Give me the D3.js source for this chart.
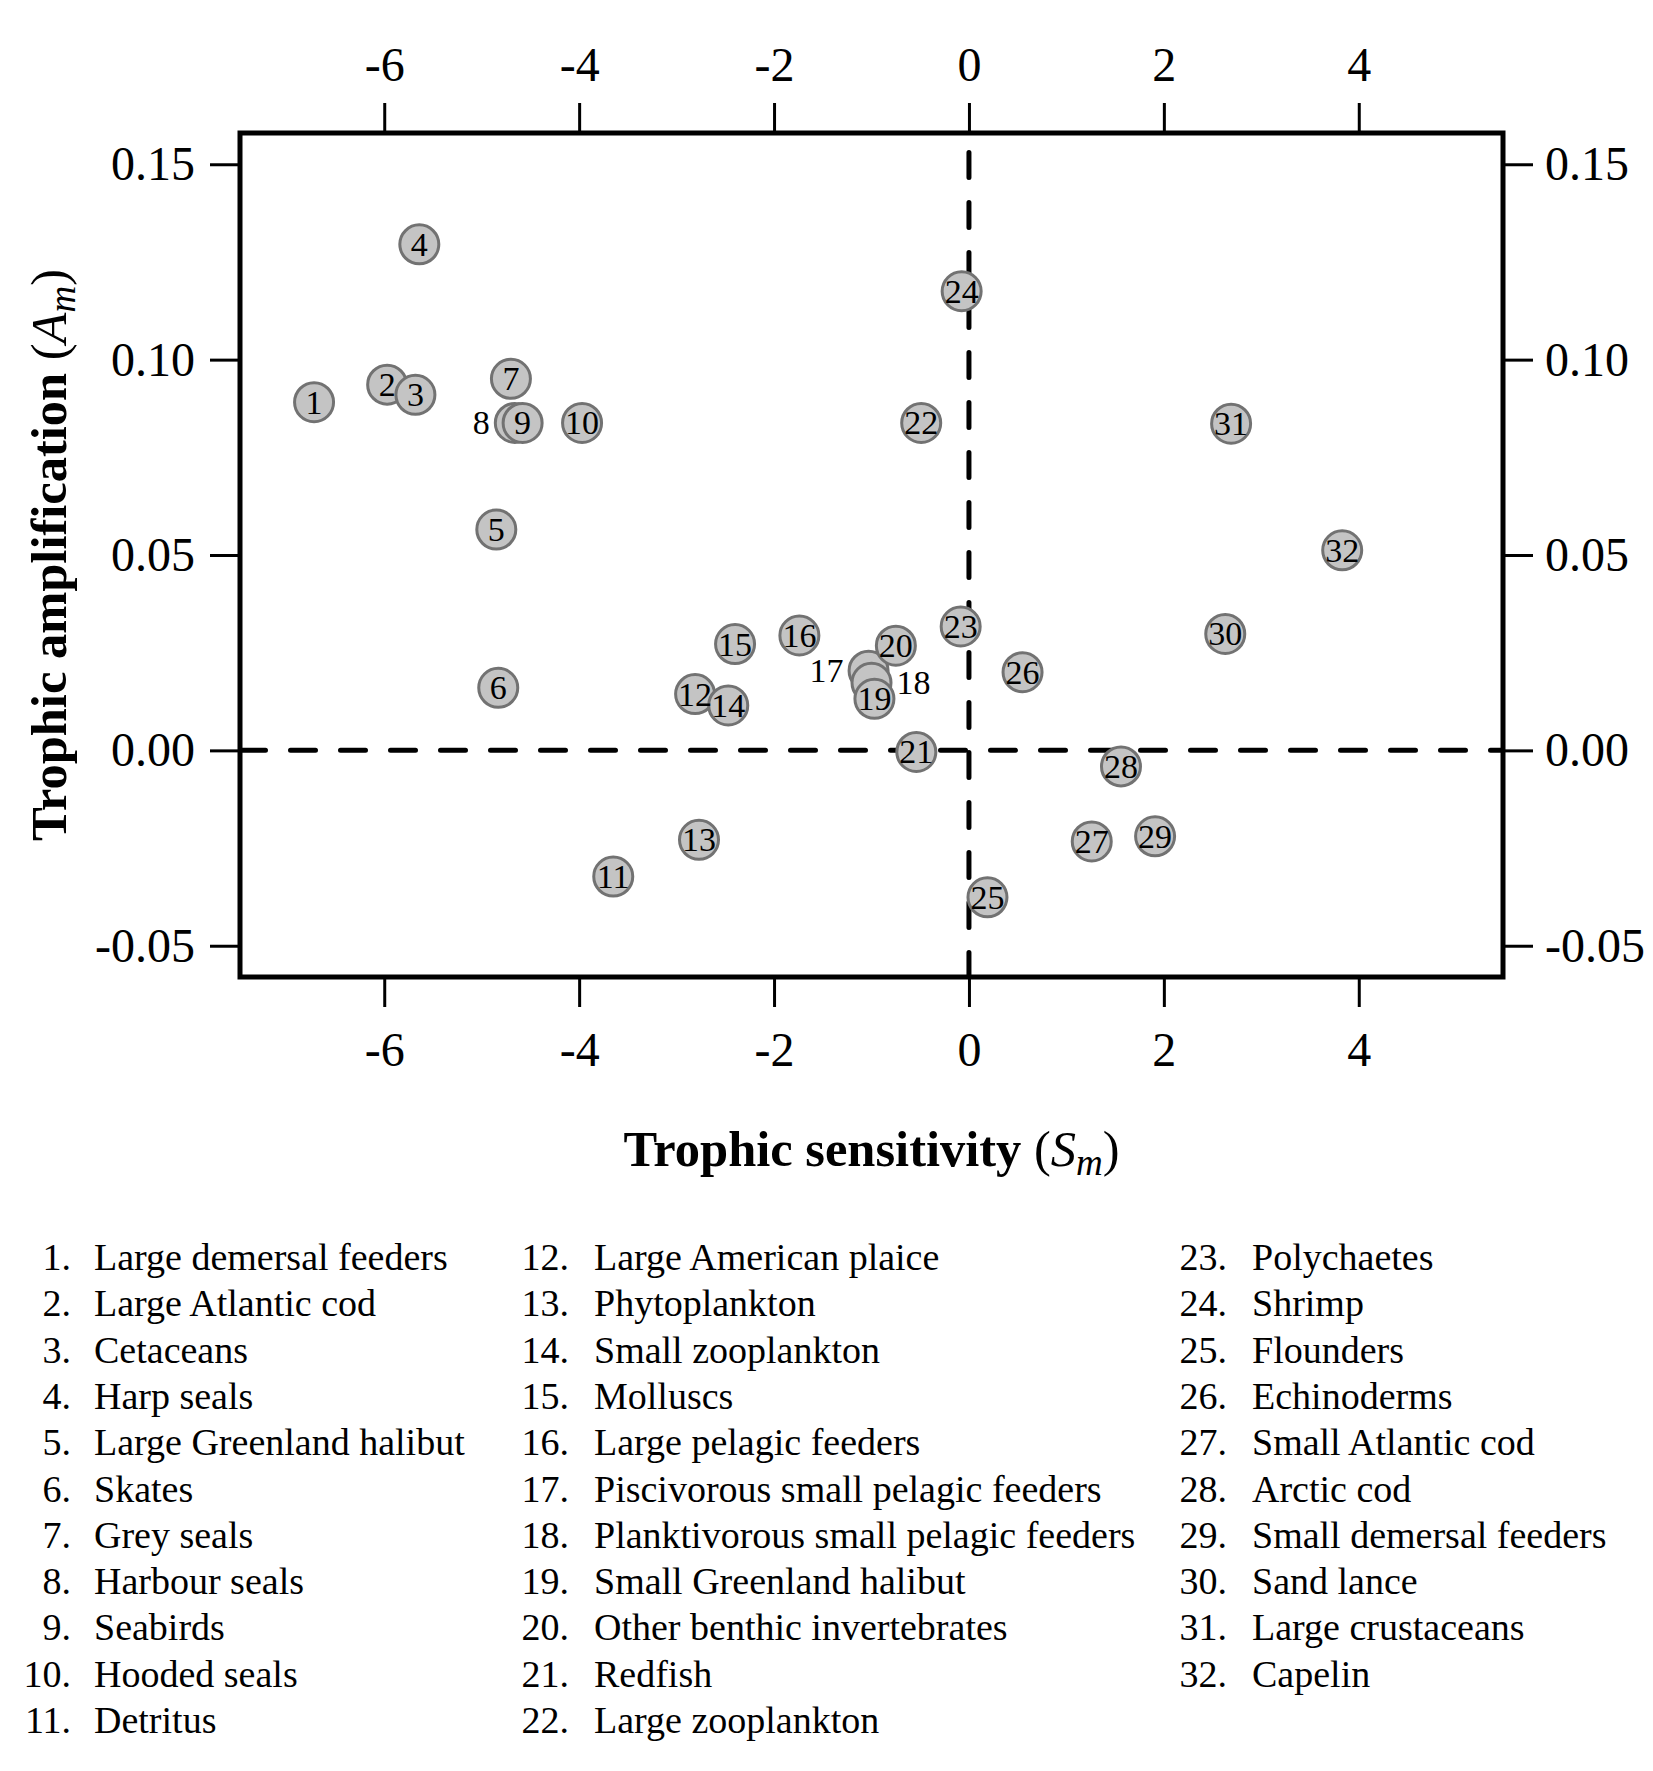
<!DOCTYPE html>
<html>
<head>
<meta charset="utf-8">
<script src="https://cdn.jsdelivr.net/npm/d3@7"></script>
<style>
  body { margin: 0; background: #fff; }
  svg text { font-family: "Liberation Serif", "Times New Roman", serif; fill: #000; }
</style>
</head>
<body>
<div id="chart"></div>
<script>
// group numbers, trophic sensitivity (x) and trophic amplification (y)
var groupIds = [1, 2, 3, 4, 5, 6, 7, 8, 9, 10, 11, 12, 13, 14, 15, 16,
                17, 18, 19, 20, 21, 22, 23, 24, 25, 26, 27, 28, 29, 30, 31, 32];
var sensitivity = [-6.72, -5.97, -5.68, -5.64, -4.85, -4.83, -4.70, -4.66, -4.58, -3.97, -3.65,
                   -2.81, -2.77, -2.47, -2.40, -1.74, -1.03, -1.00, -0.97, -0.75, -0.54, -0.49,
                   -0.085, -0.075, 0.19, 0.55, 1.26, 1.56, 1.91, 2.63, 2.69, 3.83];
var amplification = [0.0891, 0.0936, 0.0910, 0.1295, 0.0565, 0.0160, 0.0951, 0.0838, 0.0838, 0.0838, -0.0323,
                     0.0144, -0.0229, 0.0115, 0.0272, 0.0294, 0.0204, 0.0173, 0.0132, 0.0268, -0.0004, 0.0838,
                     0.0317, 0.1175, -0.0376, 0.0200, -0.0233, -0.0041, -0.0220, 0.0298, 0.0836, 0.0512];
// where the number is written: inside the circle, or beside it
var labelSide = ['in', 'in', 'in', 'in', 'in', 'in', 'in', 'left', 'in', 'in', 'in',
                 'in', 'in', 'in', 'in', 'in', 'left', 'right', 'in', 'in', 'in', 'in',
                 'in', 'in', 'in', 'in', 'in', 'in', 'in', 'in', 'in', 'in'];
var groupNames = ['Large demersal feeders', 'Large Atlantic cod', 'Cetaceans', 'Harp seals',
                  'Large Greenland halibut', 'Skates', 'Grey seals', 'Harbour seals', 'Seabirds',
                  'Hooded seals', 'Detritus', 'Large American plaice', 'Phytoplankton',
                  'Small zooplankton', 'Molluscs', 'Large pelagic feeders',
                  'Piscivorous small pelagic feeders', 'Planktivorous small pelagic feeders',
                  'Small Greenland halibut', 'Other benthic invertebrates', 'Redfish',
                  'Large zooplankton', 'Polychaetes', 'Shrimp', 'Flounders', 'Echinoderms',
                  'Small Atlantic cod', 'Arctic cod', 'Small demersal feeders', 'Sand lance',
                  'Large crustaceans', 'Capelin'];
var xTicks = [-6, -4, -2, 0, 2, 4];
var yTicks = [-0.05, 0.00, 0.05, 0.10, 0.15];

(function()
{
var width = 1653;
var height = 1771;
var plotLeft = 240, plotRight = 1503, plotTop = 133, plotBottom = 977;

var svg = d3.select('#chart')
    .append('svg')
    .attr('width', width)
    .attr('height', height);

var x = d3.scaleLinear().domain([-7.48, 5.48]).range([plotLeft, plotRight]);
var y = d3.scaleLinear().domain([-0.058, 0.158]).range([plotBottom, plotTop]);

var points = groupIds.map(function(id, i) {
    return { id: id, x: sensitivity[i], y: amplification[i], side: labelSide[i] };
});

svg.append('clipPath').attr('id', 'plotClip')
    .append('rect')
    .attr('x', plotLeft).attr('y', plotTop)
    .attr('width', plotRight - plotLeft).attr('height', plotBottom - plotTop);

// zero lines
var zero = svg.append('g').attr('clip-path', 'url(#plotClip)');
zero.append('line')
    .attr('x1', plotLeft).attr('x2', plotRight)
    .attr('y1', y(0)).attr('y2', y(0))
    .attr('stroke', '#000').attr('stroke-width', 5)
    .attr('stroke-dasharray', '25 25').attr('stroke-linecap', 'round')
    .attr('stroke-dashoffset', -0.5);
zero.append('line')
    .attr('x1', x(0)).attr('x2', x(0))
    .attr('y1', plotTop).attr('y2', plotBottom)
    .attr('stroke', '#000').attr('stroke-width', 5)
    .attr('stroke-dasharray', '25 25').attr('stroke-linecap', 'round')
    .attr('stroke-dashoffset', -19.5);

// axes on all four sides
function styleAxis(g) {
    g.select('.domain').remove();
    g.selectAll('.tick line').attr('stroke', '#000').attr('stroke-width', 3);
    g.selectAll('.tick text')
        .attr('fill', '#000')
        .style('font-family', '"Liberation Serif", "Times New Roman", serif')
        .style('font-size', '48px');
}

var fmtY = function(d) { return d3.format('.2f')(d).replace('\u2212', '-'); };
var fmtX = function(d) { return String(d).replace('\u2212', '-'); };

svg.append('g').attr('transform', 'translate(0,' + plotBottom + ')')
    .call(d3.axisBottom(x).tickValues(xTicks).tickFormat(fmtX).tickSize(30).tickPadding(25))
    .call(styleAxis);
svg.append('g').attr('transform', 'translate(0,' + plotTop + ')')
    .call(d3.axisTop(x).tickValues(xTicks).tickFormat(fmtX).tickSize(30).tickPadding(22))
    .call(styleAxis);
svg.append('g').attr('transform', 'translate(' + plotLeft + ',0)')
    .call(d3.axisLeft(y).tickValues(yTicks).tickFormat(fmtY).tickSize(30).tickPadding(15))
    .call(styleAxis);
svg.append('g').attr('transform', 'translate(' + plotRight + ',0)')
    .call(d3.axisRight(y).tickValues(yTicks).tickFormat(fmtY).tickSize(30).tickPadding(12))
    .call(styleAxis);

// frame
svg.append('rect')
    .attr('x', plotLeft).attr('y', plotTop)
    .attr('width', plotRight - plotLeft).attr('height', plotBottom - plotTop)
    .attr('fill', 'none').attr('stroke', '#000').attr('stroke-width', 5);

// points
svg.append('g').selectAll('circle')
    .data(points)
    .enter()
    .append('circle')
    .attr('cx', function(d) { return x(d.x); })
    .attr('cy', function(d) { return y(d.y); })
    .attr('r', 19.5)
    .attr('fill', '#c4c4c4')
    .attr('stroke', '#727272')
    .attr('stroke-width', 3);

svg.append('g').selectAll('text')
    .data(points)
    .enter()
    .append('text')
    .attr('x', function(d) {
        if (d.side == 'left') return x(d.x) - 25;
        if (d.side == 'right') return x(d.x) + 25;
        return x(d.x);
    })
    .attr('y', function(d) { return y(d.y); })
    .attr('dy', '0.34em')
    .attr('text-anchor', function(d) {
        if (d.side == 'left') return 'end';
        if (d.side == 'right') return 'start';
        return 'middle';
    })
    .style('font-size', '34px')
    .text(function(d) { return d.id; });

// axis titles
var xTitle = svg.append('text')
    .attr('x', (plotLeft + plotRight) / 2)
    .attr('y', 1166)
    .attr('text-anchor', 'middle')
    .style('font-size', '50.5px');
xTitle.append('tspan').style('font-weight', 'bold').text('Trophic sensitivity ');
xTitle.append('tspan').text('(');
xTitle.append('tspan').style('font-style', 'italic').text('S');
xTitle.append('tspan').style('font-style', 'italic').style('font-size', '37px')
    .attr('dy', 9).text('m');
xTitle.append('tspan').attr('dy', -9).text(')');

var yTitle = svg.append('text')
    .attr('transform', 'translate(66,' + ((plotTop + plotBottom) / 2) + ') rotate(-90)')
    .attr('text-anchor', 'middle')
    .style('font-size', '50.5px');
yTitle.append('tspan').style('font-weight', 'bold').text('Trophic amplification ');
yTitle.append('tspan').text('(');
yTitle.append('tspan').style('font-style', 'italic').text('A');
yTitle.append('tspan').style('font-style', 'italic').style('font-size', '37px')
    .attr('dy', 9).text('m');
yTitle.append('tspan').attr('dy', -9).text(')');

// legend, three columns
var legendRowHeight = 46.3;
var legendTop = 1270;
var columns = [
    { start: 0, count: 11, numRight: 71, textLeft: 94 },
    { start: 11, count: 11, numRight: 569, textLeft: 594 },
    { start: 22, count: 10, numRight: 1227, textLeft: 1252 }
];

columns.forEach(function(col) {
    var items = groupNames.slice(col.start, col.start + col.count).map(function(name, i) {
        return { num: groupIds[col.start + i], name: name, row: i };
    });
    var g = svg.append('g');
    g.selectAll('.num')
        .data(items)
        .enter()
        .append('text')
        .attr('class', 'num')
        .attr('x', col.numRight)
        .attr('y', function(d) { return legendTop + d.row * legendRowHeight; })
        .attr('text-anchor', 'end')
        .style('font-size', '38px')
        .text(function(d) { return d.num + '.'; });
    g.selectAll('.name')
        .data(items)
        .enter()
        .append('text')
        .attr('class', 'name')
        .attr('x', col.textLeft)
        .attr('y', function(d) { return legendTop + d.row * legendRowHeight; })
        .style('font-size', '38px')
        .text(function(d) { return d.name; });
});
})();
</script>
</body>
</html>
